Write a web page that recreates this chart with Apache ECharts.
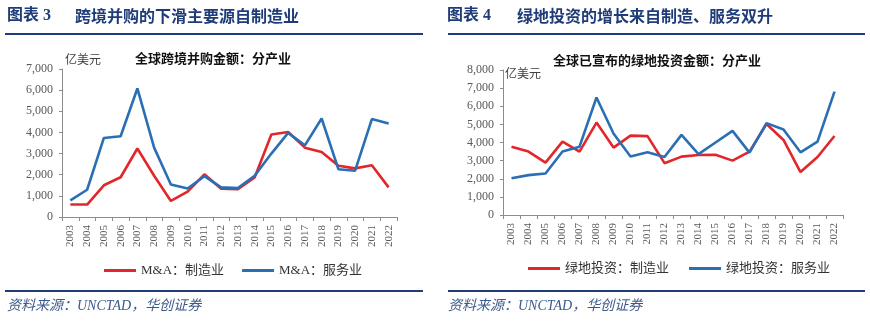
<!DOCTYPE html>
<html>
<head>
<meta charset="utf-8">
<script src="https://cdn.jsdelivr.net/npm/echarts@6/dist/echarts.min.js"></script>
<style>
html,body{margin:0;padding:0;background:#fff;}
#c{width:870px;height:323px;}
</style>
</head>
<body>
<div id="c"></div>
<script>
var years = ['2003','2004','2005','2006','2007','2008','2009','2010','2011','2012','2013','2014','2015','2016','2017','2018','2019','2020','2021','2022'];
// 图表3：跨境并购金额（亿美元）
var maManufacturing = [590, 590, 1500, 1880, 3240, 1950, 760, 1200, 2020, 1340, 1320, 1870, 3900, 4020, 3280, 3070, 2420, 2300, 2450, 1400];
var maServices = [790, 1290, 3740, 3820, 6080, 3280, 1540, 1350, 1930, 1400, 1370, 1950, 3000, 3980, 3390, 4660, 2260, 2190, 4630, 4420];
// 图表4：绿地投资金额（亿美元）
var gfManufacturing = [3770, 3500, 2890, 4050, 3500, 5100, 3720, 4380, 4350, 2860, 3220, 3310, 3320, 3000, 3500, 5020, 4140, 2370, 3200, 4360];
var gfServices = [2030, 2200, 2290, 3500, 3770, 6480, 4500, 3230, 3460, 3200, 4420, 3360, 4000, 4640, 3440, 5070, 4720, 3460, 4050, 6810];

var names = ['M&A：制造业', 'M&A：服务业', '绿地投资：制造业', '绿地投资：服务业'];
var RED = '#e3262c', BLUE = '#2a6fb4';
var serif = '"Liberation Serif", "Noto Sans CJK SC", serif';
var cjk = '"Noto Sans CJK SC", sans-serif';
var axisGray = '#8c8c8c', labelGray = '#595959';

function fmt(v){ return String(v).replace(/\B(?=(\d{3})+(?!\d))/g, ','); }

function xAx(gi){
  return {
    type:'category', gridIndex:gi, data:years, boundaryGap:true,
    axisLine:{lineStyle:{color:axisGray, width:1}},
    axisTick:{show:true, length:4, lineStyle:{color:axisGray}},
    axisLabel:{rotate:90, fontFamily:serif, fontSize:11, color:labelGray, margin:8, interval:0}
  };
}
function yAx(gi, max){
  return {
    type:'value', gridIndex:gi, min:0, max:max, interval:1000,
    axisLine:{show:true, lineStyle:{color:axisGray, width:1}},
    axisTick:{show:true, length:3, lineStyle:{color:axisGray}},
    splitLine:{show:false},
    axisLabel:{fontFamily:serif, fontSize:12, color:labelGray, margin:9, formatter:fmt}
  };
}
function ser(name, data, color, gi){
  return {
    name:name, type:'line', xAxisIndex:gi, yAxisIndex:gi, data:data,
    symbol:'none', smooth:false, lineStyle:{color:color, width:2.6}, itemStyle:{color:color},
    animation:false
  };
}

var titleColor = '#1f3b78';
var footColor = '#3d5a8c';
var chart = echarts.init(document.getElementById('c'));
chart.setOption({
  animation:false,
  backgroundColor:'#ffffff',
  grid:[
    {left:62, right:473, top:69, bottom:106},
    {left:503, right:27, top:70, bottom:108}
  ],
  xAxis:[xAx(0), xAx(1)],
  yAxis:[yAx(0,7000), yAx(1,8000)],
  legend:[
    {data:[names[0],names[1]], left:99, top:259, itemWidth:32, itemHeight:3, icon:'rect', itemGap:18,
     textStyle:{fontFamily:serif, fontSize:13, color:'#333'}},
    {data:[names[2],names[3]], left:523, top:257, itemWidth:32, itemHeight:3, icon:'rect', itemGap:20,
     textStyle:{fontFamily:serif, fontSize:13, color:'#333'}}
  ],
  series:[
    ser(names[0], maManufacturing, RED, 0),
    ser(names[1], maServices, BLUE, 0),
    ser(names[2], gfManufacturing, RED, 1),
    ser(names[3], gfServices, BLUE, 1)
  ],
  graphic:[
    {type:'text', left:7, top:8, style:{text:'图表 3', fontFamily:serif, fontWeight:'bold', fontSize:16, fill:titleColor}},
    {type:'text', left:75, top:8, style:{text:'跨境并购的下滑主要源自制造业', fontFamily:cjk, fontWeight:'bold', fontSize:16, fill:titleColor}},
    {type:'text', left:447, top:8, style:{text:'图表 4', fontFamily:serif, fontWeight:'bold', fontSize:16, fill:titleColor}},
    {type:'text', left:517, top:8, style:{text:'绿地投资的增长来自制造、服务双升', fontFamily:cjk, fontWeight:'bold', fontSize:16, fill:titleColor}},
    {type:'line', shape:{x1:5, y1:34, x2:423, y2:34}, style:{stroke:titleColor, lineWidth:2}},
    {type:'line', shape:{x1:448, y1:34, x2:865, y2:34}, style:{stroke:titleColor, lineWidth:2}},
    {type:'line', shape:{x1:5, y1:291, x2:423, y2:291}, style:{stroke:titleColor, lineWidth:2}},
    {type:'line', shape:{x1:448, y1:291, x2:865, y2:291}, style:{stroke:titleColor, lineWidth:2}},
    {type:'text', left:135, top:52, style:{text:'全球跨境并购金额：分产业', fontFamily:cjk, fontWeight:'bold', fontSize:13, fill:'#111'}},
    {type:'text', left:553, top:54, style:{text:'全球已宣布的绿地投资金额：分产业', fontFamily:cjk, fontWeight:'bold', fontSize:13, fill:'#111'}},
    {type:'text', left:65, top:53, style:{text:'亿美元', fontFamily:cjk, fontSize:12, fill:'#404040'}},
    {type:'text', left:505, top:67, style:{text:'亿美元', fontFamily:cjk, fontSize:12, fill:'#404040'}},
    {type:'text', left:7, top:299, style:{text:'资料来源：UNCTAD，华创证券', fontFamily:serif, fontStyle:'italic', fontSize:14, fill:footColor}},
    {type:'text', left:448, top:299, style:{text:'资料来源：UNCTAD，华创证券', fontFamily:serif, fontStyle:'italic', fontSize:14, fill:footColor}}
  ]
});
</script>
</body>
</html>
